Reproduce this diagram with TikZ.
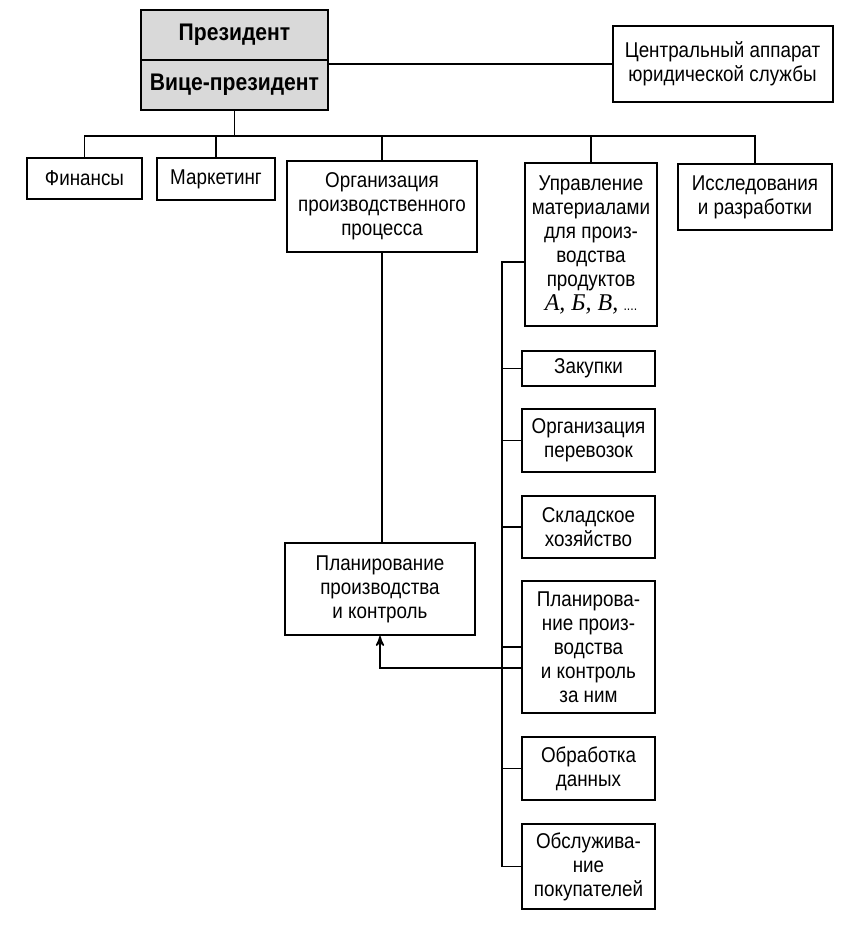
\documentclass[tikz,border=0pt]{standalone}
\usepackage{fontspec}
\setmainfont{Liberation Sans}[FakeStretch=0.88]
\newfontfamily\letterfont{Liberation Serif}
\usetikzlibrary{positioning, arrows}
\tikzset{
        x=0.5pt, y=-0.5pt, % picture measured in pixels
        every node/.style={font=\fontsize{10.7}{12}\selectfont},
        unit/.style={draw, line width=1pt, align=center, inner sep=0pt},
        head/.style={unit, fill=gray!30, minimum width=93.5pt, minimum height=25pt,
                font=\fontsize{12}{14}\selectfont\bfseries},
        sub/.style={unit, minimum width=66.5pt},
        link/.style={line width=0.8pt}
        }
\begin{document}
\begin{tikzpicture}
        \useasboundingbox (0,0) rectangle (842,926);
        % top management
        \node[head](pres) at (234.5,35){Президент};
        \node[head](vice) at (234.5,85){Вице-президент};
        \node[unit, minimum width=110pt, minimum height=38pt](legal) at (722.5,64){Центральный аппарат\\юридической службы};

        % departments
        \node[unit, minimum width=57.5pt, minimum height=20.5pt](fin) at (84.5,178.5){Финансы};
        \node[unit, minimum width=59pt, minimum height=21pt](mark) at (216,179){Маркетинг};
        \node[unit, minimum width=95pt, minimum height=45.5pt](org) at (382,206.5){Организация\\производственного\\процесса};
        \node[unit, minimum width=66pt, minimum height=81.5pt](mat) at (591,244.5){Управление\\материалами\\для произ-\\водства\\продуктов\\{\letterfont\itshape\fontsize{12}{12}\selectfont А, Б, В,} {\scriptsize ....}};
        \node[unit, minimum width=77pt, minimum height=33pt](res) at (755,197){Исследования\\и разработки};
        \node[unit, minimum width=95pt, minimum height=46pt](plan) at (380,589){Планирование\\производства\\и контроль};

        % material units
        \node[sub, minimum height=17.5pt](zak) at (588.5,368.5){Закупки};
        \node[sub, minimum height=31.5pt](perev) at (588.5,440.5){Организация\\перевозок};
        \node[sub, minimum height=31pt](sklad) at (588.5,527){Складское\\хозяйство};
        \node[sub, minimum height=66pt](planctl) at (588.5,647){Планирова-\\ние произ-\\водства\\и контроль\\за ним};
        \node[sub, minimum height=31.5pt](obr) at (588.5,768.5){Обработка\\данных};
        \node[sub, minimum height=42.5pt](obsl) at (588.5,866.5){Обслужива-\\ние\\покупателей};

        \coordinate (bus) at (755,136);
        \coordinate (spine) at (502,262);

        \draw[link] ([yshift=-1.5pt]pres.south east) -- ([yshift=-1.5pt]pres.south east -| legal.west)
              (vice.south) -- (vice.south |- bus)
              (fin.north) |- (bus) -- (res.north)
              (mark.north) -- (mark.north |- bus)
              (org.north) -- (org.north |- bus)
              (mat.north) -- (mat.north |- bus)
              (org.south) -- (org.south |- plan.north)
              (mat.west |- spine) -- (spine) |- (obsl.west);
        \foreach \n in {zak, perev, sklad, planctl, obr}
              \draw[link] (spine |- \n.west) -- (\n.west);
        \draw[link, ->, >=stealth'] ([yshift=-10.5pt]planctl.west) -| (plan.south);
      \end{tikzpicture}
\end{document}
